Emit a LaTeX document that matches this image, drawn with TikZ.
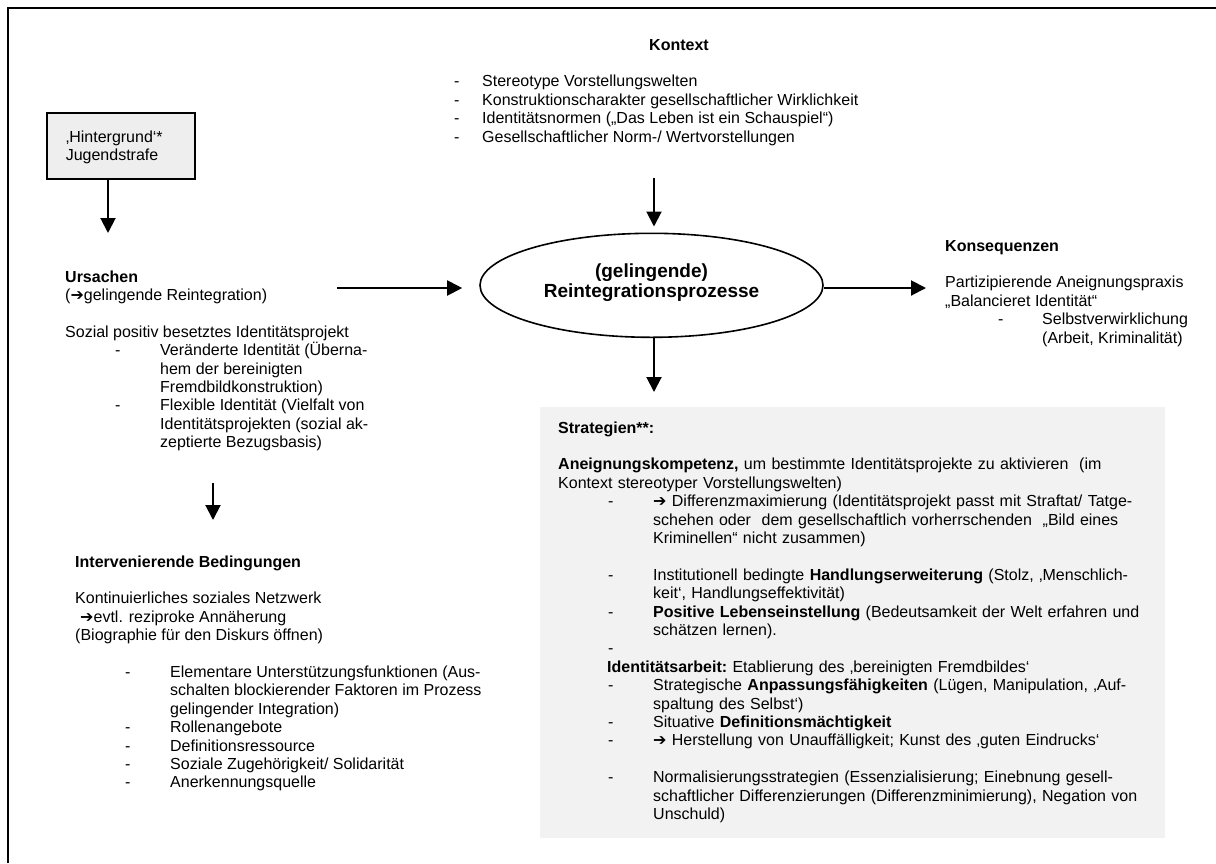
\documentclass[tikz,border=0pt]{standalone}
\usepackage{fontspec}
\setmainfont{Liberation Sans}
\newfontfamily\symfnt{DejaVu Sans}
\usetikzlibrary{arrows.meta,shapes.geometric}

\definecolor{boxgray}{RGB}{242,242,242}
\definecolor{hintgray}{RGB}{238,238,238}

% arrow glyph and list helpers (dash column at +50pt, text column at +95pt)
\newcommand{\arw}{{\symfnt ➔}}
\newcommand{\dashli}{\hspace*{50pt}\makebox[45pt][l]{-}}
\newcommand{\contli}{\hspace*{95pt}}

\tikzset{
  body/.style={font=\fontsize{16}{18.4}\selectfont},
  blk/.style={body, anchor=north west, inner sep=0pt, align=left},
  arr/.style={line width=2pt, -{Triangle[length=15pt,width=15pt]}},
}

\begin{document}
\begin{tikzpicture}[x=1pt,y=-1pt]
\useasboundingbox (0,0) rectangle (1216,863);

% outer frame (open to the right and bottom)
\draw[line width=2pt] (7.5,863) -- (7.5,7.5) -- (1216,7.5);

% Kontext
\node[body, font=\fontsize{16}{18.4}\selectfont\bfseries, anchor=base] (ctxhead) at (679,50) {Kontext};
\node[blk] (ctx) at (454,73.9) {\strut\makebox[28pt][l]{-}Stereotype Vorstellungswelten\\
\makebox[28pt][l]{-}Konstruktionscharakter gesellschaftlicher Wirklichkeit\\
\makebox[28pt][l]{-}Identitätsnormen („Das Leben ist ein Schauspiel“)\\
\makebox[28pt][l]{-}Gesellschaftlicher Norm-/ Wertvorstellungen};

% Hintergrund box
\node[body, anchor=north west, draw, line width=1.6pt, fill=hintgray,
      text width=110pt, inner xsep=19pt, minimum height=66pt, align=left] (hint) at (46,112)
  {\noindent\rule{0pt}{16.9pt}‚Hintergrund‘*\\Jugendstrafe\strut};

% Ursachen
\node[blk] (urs) at (65,269.1) {\strut\textbf{Ursachen}\\
(\arw gelingende Reintegration)\\[18.4pt]
Sozial positiv besetztes Identitätsprojekt\\
\dashli Veränderte Identität (Überna-\\
\contli hem der bereinigten\\
\contli Fremdbildkonstruktion)\\
\dashli Flexible Identität (Vielfalt von\\
\contli Identitätsprojekten (sozial ak-\\
\contli zeptierte Bezugsbasis)};

% Intervenierende Bedingungen
\node[blk] (intv) at (75,554.1) {\strut\textbf{Intervenierende Bedingungen}\\[18.4pt]
Kontinuierliches soziales Netzwerk\\
\hspace*{5pt}\arw evtl. reziproke Annäherung\\
(Biographie für den Diskurs öffnen)\\[18.4pt]
\dashli Elementare Unterstützungsfunktionen (Aus-\\
\contli schalten blockierender Faktoren im Prozess\\
\contli gelingender Integration)\\
\dashli Rollenangebote\\
\dashli Definitionsressource\\
\dashli Soziale Zugehörigkeit/ Solidarität\\
\dashli Anerkennungsquelle};

% central process
\node[ellipse, draw, line width=1.6pt, minimum width=343pt, minimum height=104pt, inner sep=0pt] (proc) at (651.5,285.3) {};
\node[font=\fontsize{19}{20.7}\selectfont\bfseries, align=center, inner sep=0pt] (proclbl) at (651.5,283.5)
  {\strut(gelingende)\\Reintegrationsprozesse\strut};

% Konsequenzen
\node[blk] (kons) at (945,238.1) {\strut\textbf{Konsequenzen}\\[18.4pt]
Partizipierende Aneignungspraxis\\
„Balancieret Identität“\\
\hspace*{53pt}\makebox[44pt][l]{-}Selbstverwirklichung\\
\hspace*{97pt}(Arbeit, Kriminalität)};

% Strategien
\node[body, anchor=north west, fill=boxgray, text width=589pt, inner xsep=18pt, inner ysep=13pt, align=left] (strat) at (540,407)
{\noindent\strut\textbf{Strategien**:}\\[18.4pt]
\textbf{Aneignungskompetenz,} um bestimmte Identitätsprojekte zu aktivieren\ \ (im\\
Kontext stereotyper Vorstellungswelten)\\
\dashli\arw\ Differenzmaximierung (Identitätsprojekt passt mit Straftat/ Tatge-\\
\contli schehen oder\ \ dem gesellschaftlich vorherrschenden\ \ „Bild eines\\
\contli Kriminellen“ nicht zusammen)\\[18.4pt]
\dashli Institutionell bedingte \textbf{Handlungserweiterung} (Stolz, ‚Menschlich-\\
\contli keit‘, Handlungseffektivität)\\
\dashli\textbf{Positive Lebenseinstellung} (Bedeutsamkeit der Welt erfahren und\\
\contli schätzen lernen).\\
\hspace*{50pt}-\\
\hspace*{49pt}\textbf{Identitätsarbeit:}\ Etablierung des ‚bereinigten Fremdbildes‘\\
\dashli Strategische \textbf{Anpassungsfähigkeiten} (Lügen, Manipulation, ‚Auf-\\
\contli spaltung des Selbst‘)\\
\dashli Situative \textbf{Definitionsmächtigkeit}\\
\dashli\arw\ Herstellung von Unauffälligkeit; Kunst des ‚guten Eindrucks‘\\[18.4pt]
\dashli Normalisierungsstrategien (Essenzialisierung; Einebnung gesell-\\
\contli schaftlicher Differenzierungen (Differenzminimierung), Negation von\\
\contli Unschuld)\strut};

% connector end points
\coordinate (hintTip) at (108,233);
\coordinate (ctxOut) at (654,178);
\coordinate (ursOut) at (337,288);
\coordinate (konsTip) at (926,288);
\coordinate (stratTip) at (654,392);
\coordinate (ursDown) at (213,483);
\coordinate (intvTip) at (213,520);

% connectors
\draw[arr] (hintTip |- hint.south) -- (hintTip);
\draw[arr, shorten >=6pt] (ctxOut) -- (ctxOut |- proc.north);
\draw[arr, shorten >=17pt] (ursOut) -- (ursOut -| proc.west);
\draw[arr] (konsTip -| proc.east) -- (konsTip);
\draw[arr] (stratTip |- proc.south) -- (stratTip);
\draw[arr] (ursDown) -- (intvTip);

\end{tikzpicture}
\end{document}
